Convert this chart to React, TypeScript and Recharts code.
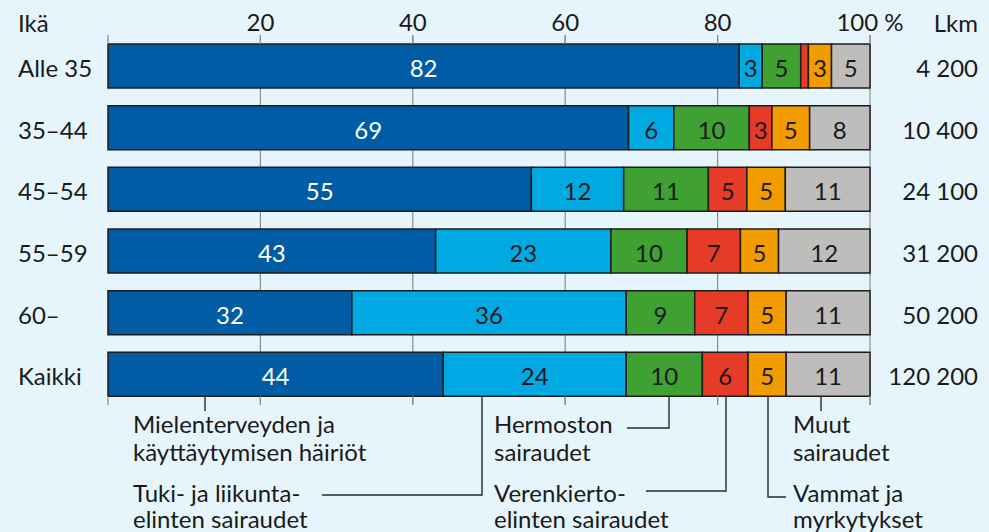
import React from 'react';
import { BarChart, Bar, XAxis, YAxis, CartesianGrid, LabelList } from 'recharts';

const ages = ['Alle 35', '35–44', '45–54', '55–59', '60–', 'Kaikki'];
const counts = ['4 200', '10 400', '24 100', '31 200', '50 200', '120 200'];

// shares per age group, %
const mental = [82, 69, 55, 43, 32, 44];
const musculo = [3, 6, 12, 23, 36, 24];
const nervous = [5, 10, 11, 10, 9, 10];
const circulatory = [1, 3, 5, 7, 7, 6];
const injuries = [3, 5, 5, 5, 5, 5];
const other = [5, 8, 11, 12, 11, 11];

const xTicks = [0, 0.2, 0.4, 0.6, 0.8, 1];
const xTickLabels = ['', '20', '40', '60', '80', '100 %'];

const FONT = 'Lato, "Open Sans", sans-serif';
const INK = '#1a1a1a';

const series = [
  { key: 'mental', fill: '#005ca4', text: '#ffffff' },
  { key: 'musculo', fill: '#00a9e2', text: INK },
  { key: 'nervous', fill: '#3fa132', text: INK },
  { key: 'circulatory', fill: '#e63b27', text: INK },
  { key: 'injuries', fill: '#f39c00', text: INK },
  { key: 'other', fill: '#bebdbb', text: INK },
];

const data = ages.map((age, i) => ({
  age,
  lkm: counts[i],
  mental: mental[i],
  musculo: musculo[i],
  nervous: nervous[i],
  circulatory: circulatory[i],
  injuries: injuries[i],
  other: other[i],
}));

const PLOT_H = 370;

const TopTick = (props: any) => {
  const { x, y, index } = props;
  return (
    <g>
      <line x1={x} x2={x} y1={y} y2={y + 9} stroke="#8c8c8c" strokeWidth={1.2} />
      <line x1={x} x2={x} y1={y + PLOT_H - 9} y2={y + PLOT_H} stroke="#8c8c8c" strokeWidth={1.2} />
      <text x={x} y={y - 4} textAnchor="middle" fontFamily={FONT} fontSize={24} fill={INK}>
        {xTickLabels[index] ?? ''}
      </text>
    </g>
  );
};

const LeftTick = (props: any) => {
  const { x, y, payload } = props;
  return (
    <text x={x - 90} y={y + 11} textAnchor="start" fontFamily={FONT} fontSize={24} fill={INK}>
      {payload.value}
    </text>
  );
};

const RightTick = (props: any) => {
  const { x, y, payload } = props;
  return (
    <text x={x + 108} y={y + 11} textAnchor="end" fontFamily={FONT} fontSize={24} fill={INK}>
      {payload.value}
    </text>
  );
};

const makeLabel = (color: string) => (props: any) => {
  const x = Number(props.x);
  const y = Number(props.y);
  const w = Number(props.width);
  const h = Number(props.height);
  const v = Number(props.value);
  if (!isFinite(v) || v < 2) return null;
  return (
    <text x={x + w / 2} y={y + h / 2 + 11} textAnchor="middle" fontFamily={FONT} fontSize={24} fill={color}>
      {v}
    </text>
  );
};

const Callouts = () => {
  const t = { fontFamily: FONT, fontSize: 24, fill: INK };
  const ln = { stroke: '#2a2a2a', strokeWidth: 1.4, fill: 'none' };
  return (
    <svg width={989} height={532} style={{ position: 'absolute', left: 0, top: 0, pointerEvents: 'none' }}>
      <text x={18} y={32} {...t}>Ikä</text>
      <text x={978} y={32} textAnchor="end" {...t}>Lkm</text>

      <polyline points="205,396 205,411" {...ln} />
      <text x={133} y={433} {...t}>Mielenterveyden ja</text>
      <text x={133} y={461} {...t}>käyttäytymisen häiriöt</text>

      <polyline points="322,495 482,495 482,396" {...ln} />
      <text x={133} y={502} {...t}>Tuki- ja liikunta-</text>
      <text x={133} y={528} {...t}>elinten sairaudet</text>

      <polyline points="627,428 669,428 669,396" {...ln} />
      <text x={494} y={433} {...t}>Hermoston</text>
      <text x={494} y={461} {...t}>sairaudet</text>

      <polyline points="646,491 726,491 726,396" {...ln} />
      <text x={494} y={502} {...t}>Verenkierto-</text>
      <text x={494} y={528} {...t}>elinten sairaudet</text>

      <polyline points="821,396 821,411" {...ln} />
      <text x={793} y={433} {...t}>Muut</text>
      <text x={793} y={461} {...t}>sairaudet</text>

      <polyline points="768,396 768,497 786,497" {...ln} />
      <text x={793} y={502} {...t}>Vammat ja</text>
      <text x={793} y={528} {...t}>myrkytykset</text>
    </svg>
  );
};

export default function App() {
  return (
    <div style={{ position: 'absolute', left: 0, top: 0, width: 989, height: 532, background: '#e6f5fc', overflow: 'hidden' }}>
      <BarChart
        width={989}
        height={532}
        data={data}
        layout="vertical"
        stackOffset="expand"
        margin={{ top: 0, right: 0, bottom: 127, left: 0 }}
      >
        <CartesianGrid horizontal={false} vertical verticalValues={[0.2, 0.4, 0.6, 0.8, 1]} stroke="#8c8c8c" strokeWidth={1.2} />
        <XAxis
          type="number"
          orientation="top"
          domain={[0, 1]}
          ticks={xTicks}
          height={35}
          axisLine={false}
          tickLine={false}
          tickSize={0}
          tickMargin={0}
          interval={0}
          tick={<TopTick />}
        />
        <YAxis
          type="category"
          dataKey="age"
          width={108}
          axisLine={false}
          tickLine={false}
          tickSize={0}
          tickMargin={0}
          interval={0}
          tick={<LeftTick />}
        />
        <YAxis
          yAxisId="r"
          type="category"
          dataKey="lkm"
          orientation="right"
          width={119}
          axisLine={false}
          tickLine={false}
          tickSize={0}
          tickMargin={0}
          interval={0}
          tick={<RightTick />}
        />
        {series.map((s) => (
          <Bar
            key={s.key}
            dataKey={s.key}
            stackId="a"
            fill={s.fill}
            stroke="#1d1d1b"
            strokeWidth={1.5}
            barSize={44}
            isAnimationActive={false}
          >
            <LabelList dataKey={s.key} content={makeLabel(s.text)} />
          </Bar>
        ))}
      </BarChart>
      <Callouts />
    </div>
  );
}
